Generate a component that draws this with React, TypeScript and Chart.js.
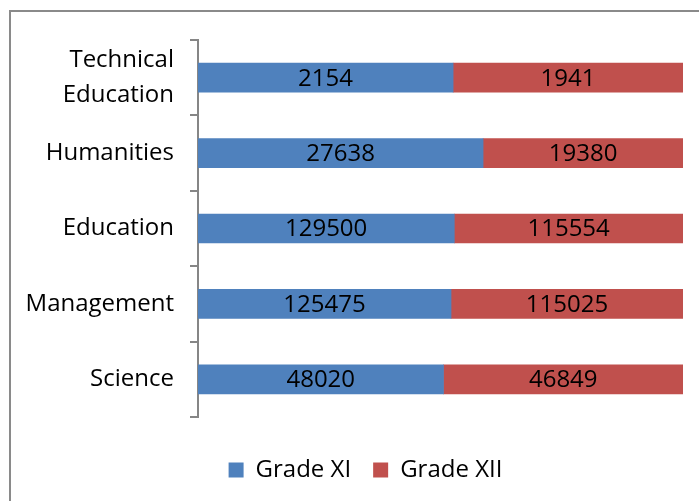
import React, { useEffect, useRef } from "react";
import { Chart, registerables } from "chart.js";

Chart.register(...registerables);

const categories: (string | string[])[] = [
  ["Technical", "Education"],
  "Humanities",
  "Education",
  "Management",
  "Science",
];
const gradeXI = [2154, 27638, 129500, 125475, 48020];
const gradeXII = [1941, 19380, 115554, 115025, 46849];
const seriesNames = ["Grade XI", "Grade XII"];
const seriesColors = ["#4F81BD", "#C0504D"];

const FONT = "'Open Sans', sans-serif";

const valueLabels = {
  id: "valueLabels",
  afterDatasetsDraw(chart: any) {
    const ctx = chart.ctx;
    ctx.save();
    ctx.font = `24px ${FONT}`;
    ctx.fillStyle = "#000";
    ctx.textAlign = "center";
    ctx.textBaseline = "middle";
    chart.data.datasets.forEach((ds: any, di: number) => {
      const meta = chart.getDatasetMeta(di);
      meta.data.forEach((bar: any, i: number) => {
        const cx = (bar.x + bar.base) / 2;
        ctx.fillText(String(ds.raw[i]), cx, bar.y + 1);
      });
    });
    ctx.restore();
  },
};

export default function App() {
  const ref = useRef<HTMLCanvasElement>(null);
  useEffect(() => {
    const totals = gradeXI.map((v, i) => v + gradeXII[i]);
    const pct = (arr: number[]) => arr.map((v, i) => (v / totals[i]) * 100);
    const chart = new Chart(ref.current!, {
      type: "bar",
      data: {
        labels: categories,
        datasets: [
          {
            label: seriesNames[0],
            data: pct(gradeXI),
            raw: gradeXI,
            backgroundColor: seriesColors[0],
            barThickness: 29,
          } as any,
          {
            label: seriesNames[1],
            data: pct(gradeXII),
            raw: gradeXII,
            backgroundColor: seriesColors[1],
            barThickness: 29,
          } as any,
        ],
      },
      options: {
        indexAxis: "y",
        responsive: false,
        animation: false,
        layout: { padding: { left: 48, top: 40, right: 16, bottom: 9 } },
        scales: {
          x: {
            stacked: true,
            display: true,
            min: 0,
            max: 100,
            grid: { display: false },
            border: { display: false },
            ticks: { display: false },
            afterFit: (scale: any) => {
              scale.height = 19;
            },
          },
          y: {
            stacked: true,
            afterFit: (scale: any) => {
              scale.width = 150;
              scale._computeLabelArea = () => undefined;
            },
            border: { display: true, color: "#868686", width: 2 },
            grid: {
              offset: true,
              drawOnChartArea: false,
              drawTicks: true,
              tickLength: 8,
              color: "#868686",
              lineWidth: 2,
            },
            ticks: {
              color: "#000",
              font: { family: FONT, size: 24, lineHeight: 1.45 },
              padding: 16,
            },
          },
        },
        plugins: {
          tooltip: { enabled: false },
          legend: {
            position: "bottom",
            labels: {
              color: "#000",
              font: { family: FONT, size: 24 },
              boxWidth: 15,
              boxHeight: 15,
              padding: 22,
            },
          },
        },
      },
      plugins: [valueLabels],
    });
    return () => chart.destroy();
  }, []);

  return (
    <div style={{ position: "fixed", left: 0, top: 0, width: 699, height: 501, background: "#fff", overflow: "hidden" }}>
      <div
        style={{
          position: "absolute",
          left: 9,
          top: 10,
          width: 720,
          height: 520,
          border: "2px solid #8a8a8a",
          boxSizing: "border-box",
        }}
      />
      <canvas ref={ref} width={699} height={501} style={{ position: "absolute", left: 0, top: 0 }} />
    </div>
  );
}
